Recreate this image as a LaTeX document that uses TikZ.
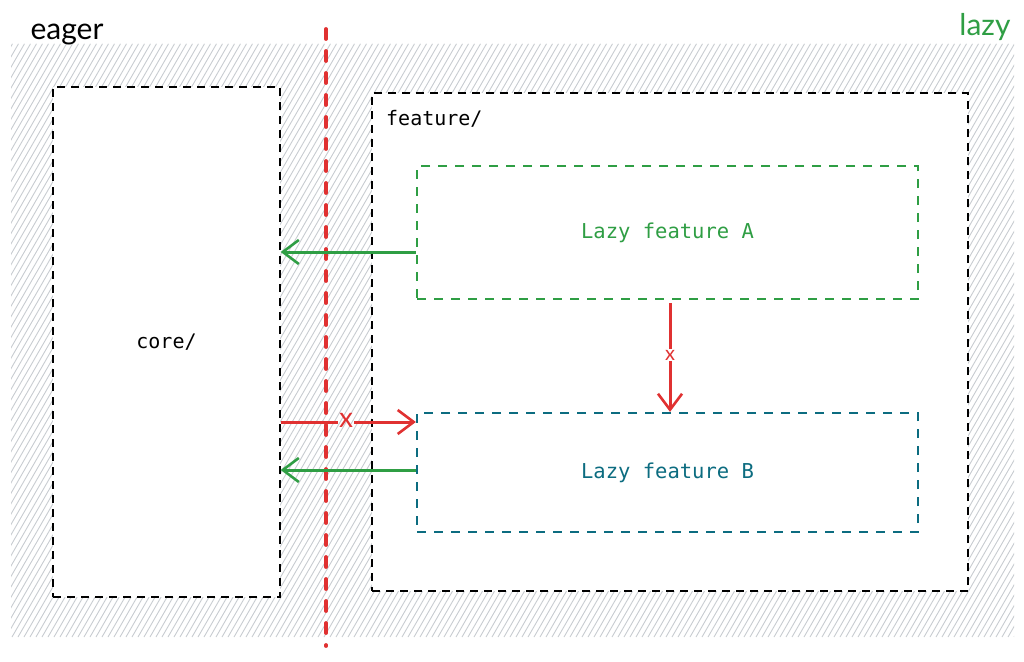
\documentclass[tikz,border=0pt]{standalone}
\usepackage{fontspec}
\setmainfont{Lato}
\newfontfamily\monofont{DejaVu Sans Mono}
\usetikzlibrary{arrows.meta,calc}
\definecolor{exgreen}{HTML}{2F9E44}
\definecolor{exteal}{HTML}{0C6C80}
\definecolor{exred}{HTML}{E03131}
\definecolor{hatchgray}{HTML}{C8CCD1}
\tikzset{
  blackbox/.style={draw=black, line width=1.3pt, dash pattern=on 8pt off 6pt, fill=white, inner sep=0pt},
  lazybox/.style={line width=2.2pt, dash pattern=on 9pt off 8pt, inner sep=0pt, font=\monofont\fontsize{20.5}{24}\selectfont},
  monotext/.style={font=\monofont\fontsize{20}{24}\selectfont},
  handtext/.style={font=\fontsize{30}{34}\selectfont},
  barb/.style={line width=3pt, -{Straight Barb[length=16pt,width=24pt,line width=2.6pt]}},
  greenarrow/.style={barb, draw=exgreen},
  redarrow/.style={barb, draw=exred},
  plainred/.style={line width=3pt, draw=exred},
  crossmark/.style={text=exred, inner sep=1pt},
  divider/.style={draw=exred, line width=3.8pt, line cap=round, dash pattern=on 10pt off 12pt}
}
\begin{document}
\begin{tikzpicture}[x=1pt,y=-1pt]
\useasboundingbox (0,0) rectangle (1024,661);
% hatched background
\begin{scope}
  \clip (11,44) rectangle (1014,637);
  \foreach \i in {0,6,...,1440} {
    \draw[hatchgray, line width=0.9pt] (\i-420,637) -- ++(-60:685);
  }
\end{scope}
% labels
\node[handtext, anchor=base west] (eager) at (27,40) {eager};
\node[handtext, anchor=base east, text=exgreen] (lazy) at (1014,36) {lazy};
% boxes
\node[blackbox, minimum width=227pt, minimum height=510pt, monotext] (core) at (166.5,342) {core/};
\node[blackbox, minimum width=596pt, minimum height=498pt] (feature) at (670,342) {};
\node[monotext, anchor=north west, inner sep=0pt] (featlabel) at (386,110) {feature/};
\node[lazybox, draw=exgreen, text=exgreen, minimum width=501pt, minimum height=133pt] (A) at (667.5,232.5) {Lazy feature A};
\node[lazybox, draw=exteal, text=exteal, minimum width=501pt, minimum height=119pt] (B) at (667.5,472.5) {Lazy feature B};
% divider
\coordinate (divtop) at (326,29);
\coordinate (divbot) at (326,646);
\draw[divider] (divtop) -- (divbot);
% connectors
\draw[greenarrow] (A.west |- 0,252) -- (core.east |- 0,252);
\draw[greenarrow] (B.west |- 0,470) -- (core.east |- 0,470);
\node[crossmark, font=\fontsize{28}{28}\selectfont] (x1) at (346,420) {x};
\draw[plainred] (core.east |- 0,422) -- (x1.west |- 0,422);
\draw[redarrow] (x1.east |- 0,422) -- (B.west |- 0,422);
\node[crossmark, font=\fontsize{20}{20}\selectfont] (x2) at (670,355) {x};
\draw[plainred] (x2 |- 0,303) -- (x2.north);
\draw[redarrow] (x2.south) -- (x2 |- B.north);
\end{tikzpicture}
\end{document}
